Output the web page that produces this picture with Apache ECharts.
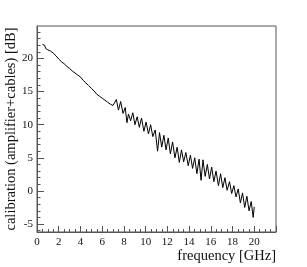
<!DOCTYPE html>
<html>
<head>
<meta charset="utf-8">
<script src="https://cdn.jsdelivr.net/npm/echarts@6/dist/echarts.min.js"></script>
<style>html,body{margin:0;padding:0;background:#fff;}#c{width:307px;height:267px;}</style>
</head>
<body>
<div id="c"></div>
<script>
var freqGHz = [0.50,0.60,0.70,0.80,0.90,1.00,1.10,1.25,1.50,1.75,2.00,2.25,2.50,2.75,3.00,3.25,3.50,3.75,4.00,4.25,4.50,4.75,5.00,5.25,5.50,5.75,6.00,6.25,6.50,6.75,7.00,7.10,
  7.30,7.50,7.70,7.92,8.12,8.28,8.42,8.62,8.82,9.02,9.22,9.42,9.62,9.84,10.04,10.26,10.46,10.66,10.88,11.10,11.28,11.48,11.68,11.88,12.08,12.28,12.48,12.70,12.90,13.10,13.30,13.50,13.70,13.92,14.12,14.32,14.52,14.72,14.92,15.10,15.28,15.48,15.68,15.88,16.08,16.28,16.48,16.70,16.90,17.10,17.30,17.50,17.72,17.92,18.12,18.32,18.52,18.72,18.92,19.12,19.32,19.52,19.72,19.90,20.00];
var calibDB = [22.1,21.8,22.0,21.5,21.8,21.3,21.6,21.1,20.8,20.4,19.9,19.5,19.2,18.8,18.5,18.1,17.8,17.5,17.2,16.7,16.3,15.9,15.5,15.1,14.6,14.3,14.0,13.7,13.4,13.1,12.9,13.0,
  13.8,12.2,13.5,11.7,12.6,10.3,11.6,10.6,11.8,10.0,11.2,9.6,11.0,9.0,10.4,8.6,10.0,8.2,9.2,6.0,8.8,6.6,8.4,6.2,8.0,5.6,7.4,5.0,6.6,4.3,6.2,4.4,5.8,3.8,5.4,3.4,5.0,2.6,4.8,1.6,4.7,2.2,4.0,1.8,3.6,1.4,3.0,0.8,2.6,0.5,2.0,0.1,1.4,-0.4,0.8,-0.9,0.3,-1.8,-0.3,-2.5,-0.8,-3.0,-1.6,-4.0,-2.4];
var yMajorTicks = [-5,0,5,10,15,20];
var yMinorTicks = [-6,-4,-3,-2,-1,1,2,3,4,6,7,8,9,11,12,13,14,16,17,18,19,21,22,23,24];
var xTitle = 'frequency [GHz]';
var yTitle = 'calibration (amplifier+cables) [dB]';

var data = freqGHz.map(function(f,i){return [f, calibDB[i]];});
var axisCol = '#555';
var font = 'Liberation Serif';
var chart = echarts.init(document.getElementById('c'), null, {renderer:'canvas'});
chart.setOption({
  animation:false,
  backgroundColor:'#fff',
  grid:{left:37, right:31, top:26, bottom:35, outerBoundsMode:'none', containLabel:false, show:true, borderColor:axisCol, borderWidth:1, backgroundColor:'transparent'},
  xAxis:{type:'value', min:0, max:22, interval:2,
    name:xTitle, nameLocation:'end', nameGap:0, nameMoveOverlap:false,
    nameTextStyle:{fontFamily:font, fontSize:14.5, color:'#111', align:'right', verticalAlign:'top', padding:[17,0,0,0]},
    axisLine:{onZero:false, lineStyle:{color:axisCol}},
    axisTick:{inside:true, length:6, lineStyle:{color:axisCol}},
    minorTick:{show:true, splitNumber:4, length:3, lineStyle:{color:axisCol}},
    splitLine:{show:false},
    axisLabel:{fontFamily:font, fontSize:11, color:'#111', margin:5,
      formatter:function(v){return v<=20? String(v):'';}}
  },
  yAxis:[{type:'value', min:-6.2, max:24.9,
    name:yTitle, nameLocation:'middle', nameGap:18, nameMoveOverlap:false,
    nameTextStyle:{fontFamily:font, fontSize:14.5, color:'#111'},
    axisLine:{show:true, onZero:false, lineStyle:{color:axisCol}},
    axisTick:{show:true, inside:true, length:7, customValues:yMajorTicks, lineStyle:{color:axisCol}},
    splitLine:{show:false},
    axisLabel:{fontFamily:font, fontSize:11, color:'#111', margin:4, customValues:yMajorTicks}
  },{type:'value', min:-6.2, max:24.9, position:'left',
    axisLine:{show:false, onZero:false},
    axisTick:{show:true, inside:true, length:3.5, customValues:yMinorTicks, lineStyle:{color:axisCol}},
    splitLine:{show:false},
    axisLabel:{show:false}
  }],
  series:[{type:'line', data:data, yAxisIndex:0, showSymbol:false, symbol:'none',
    lineStyle:{color:'#000', width:1}, silent:true}]
});
</script>
</body>
</html>
